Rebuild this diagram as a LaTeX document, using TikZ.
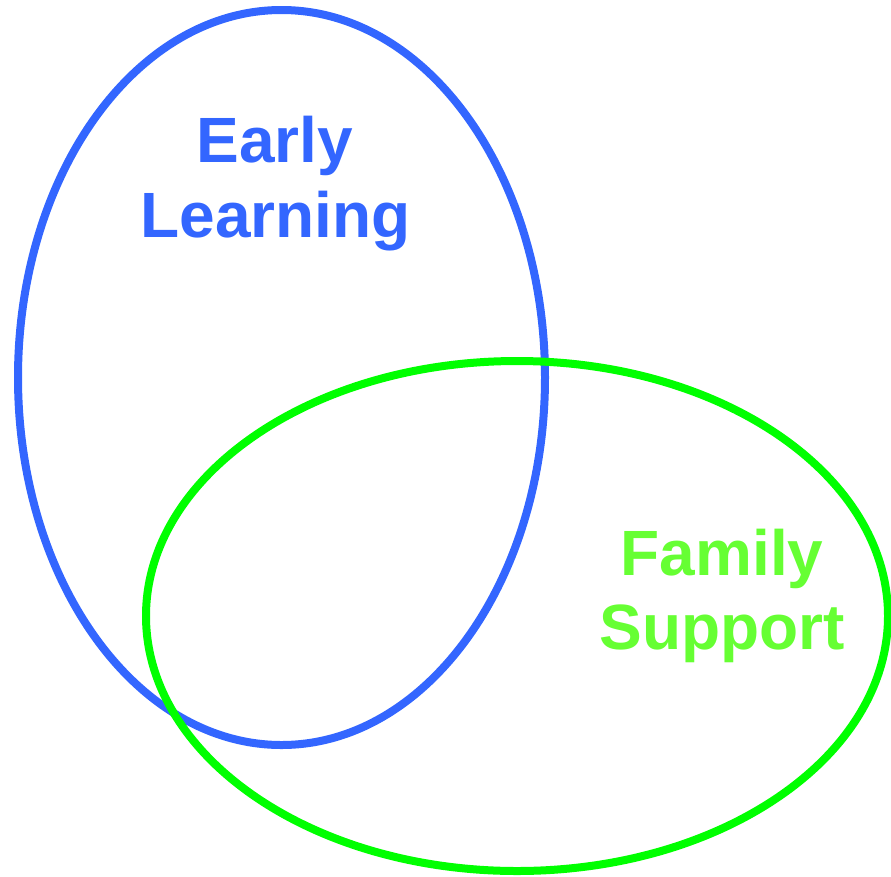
\documentclass[tikz,border=0pt]{standalone}
\usepackage{fontspec}
\setmainfont{Liberation Sans}
\definecolor{elblue}{HTML}{3366FF}
\definecolor{fsgreen}{HTML}{00FF00}
\definecolor{fstext}{HTML}{66FF33}
\begin{document}
\begin{tikzpicture}[x=1pt,y=-1pt,
  ring/.style={line width=8pt},
  lbl/.style={font=\fontsize{64}{75}\selectfont\bfseries, inner sep=0pt, anchor=base}]
\useasboundingbox (0,0) rectangle (891,876);
\draw[ring, elblue] (281.5,377.5) ellipse [x radius=263.5, y radius=367.5];
\draw[ring, fsgreen] (517,616) ellipse [x radius=371, y radius=255];
\node[lbl, text=elblue] (early) at (275,162) {Early};
\node[lbl, text=elblue] (learning) at (275.5,237) {Learning};
\node[lbl, text=fstext] (family) at (722,575) {Family};
\node[lbl, text=fstext] (support) at (722,649) {Support};
\end{tikzpicture}
\end{document}
